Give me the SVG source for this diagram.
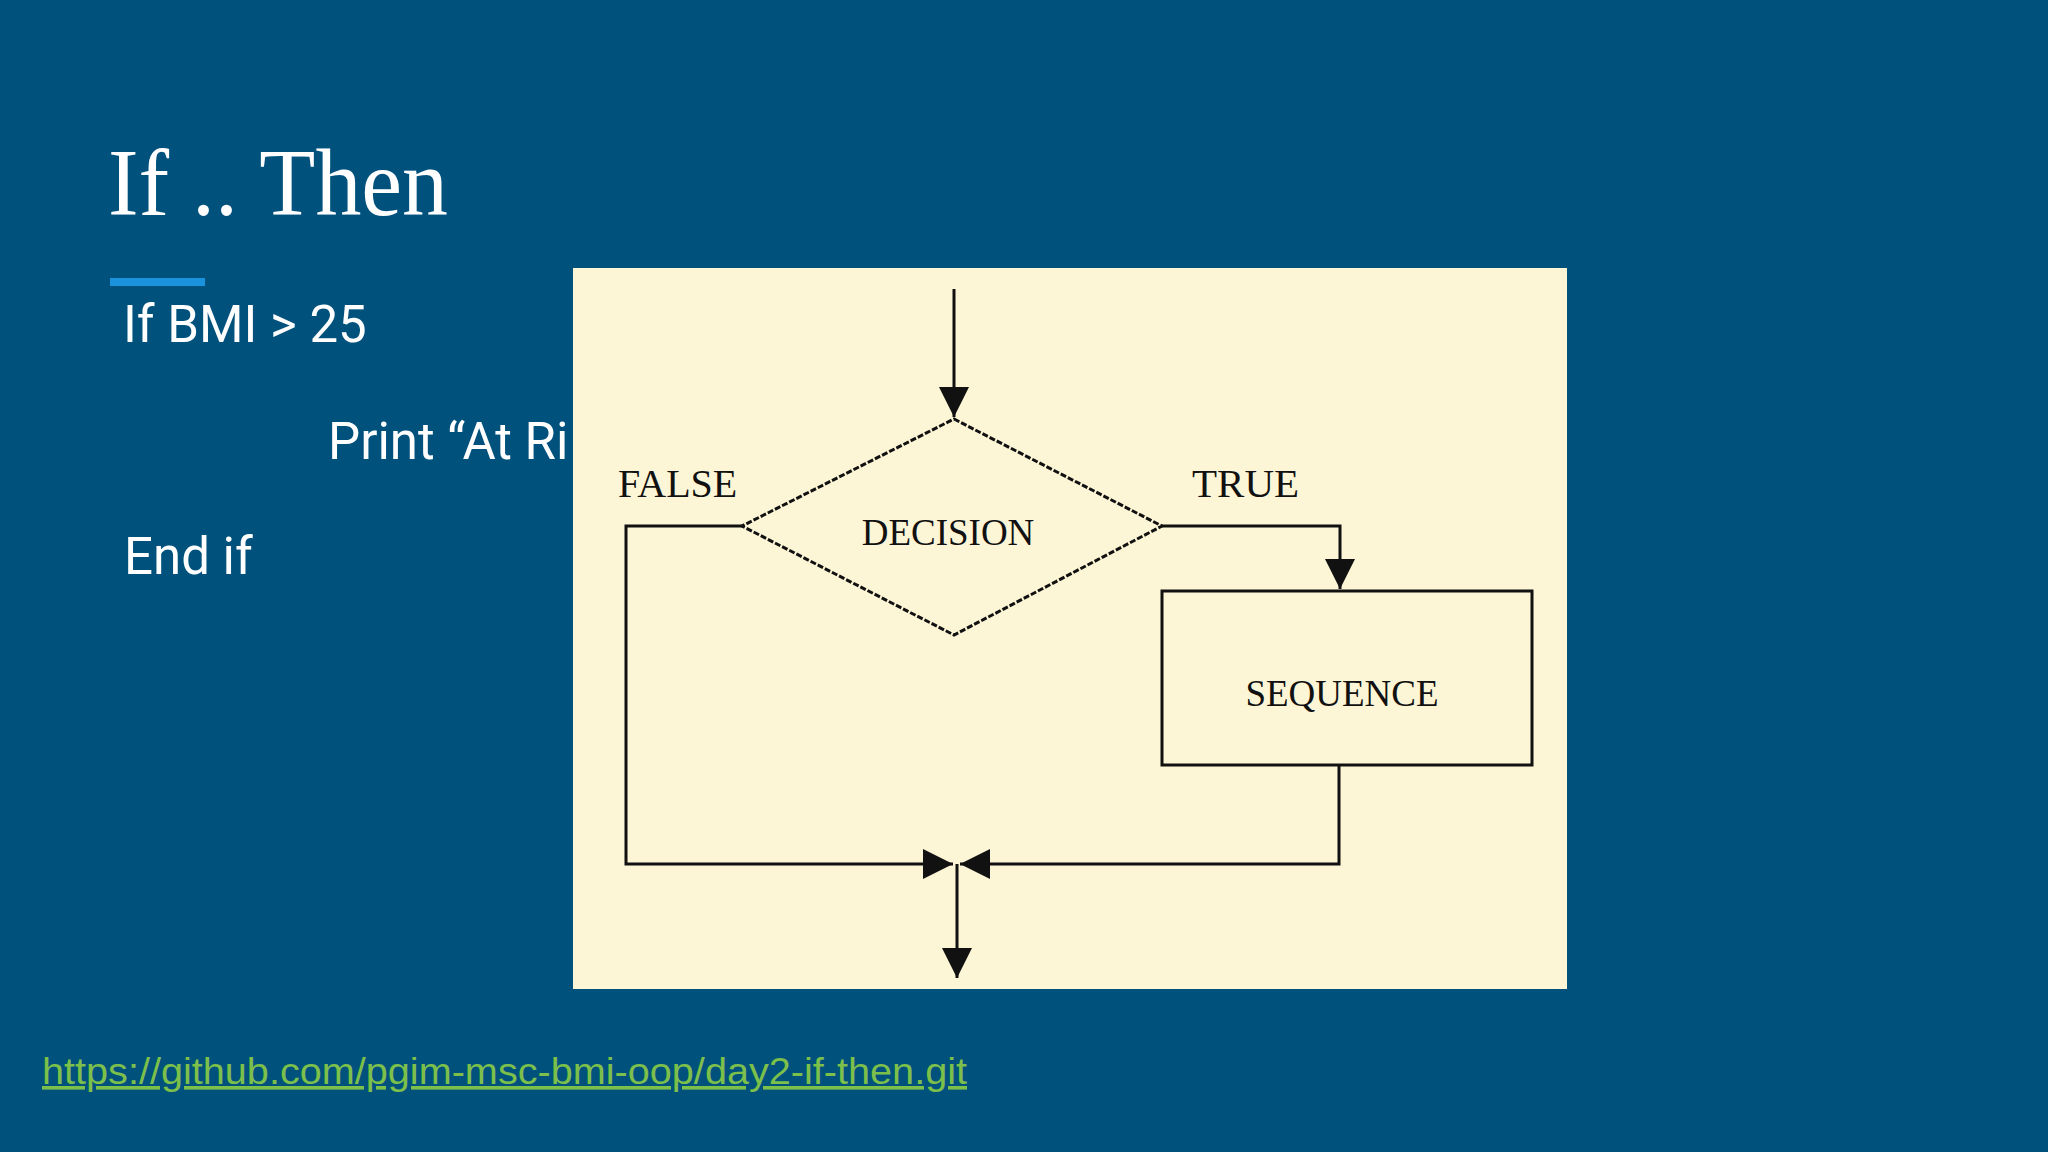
<svg xmlns="http://www.w3.org/2000/svg" width="2048" height="1152" viewBox="0 0 2048 1152">
<defs>
<style>
.body{font-family:Roboto,"Liberation Sans",sans-serif;font-size:51px;fill:#ffffff}
.lbl{font-family:"Liberation Serif",serif;fill:#111111}
.ln{fill:none;stroke:#111111;stroke-width:3}
</style>
<marker id="ah" markerUnits="userSpaceOnUse" viewBox="0 0 30 30" refX="30" refY="15" markerWidth="30" markerHeight="30" orient="auto">
<path d="M0,0 L30,15 L0,30 z" fill="#111111"/>
</marker>
</defs>
<rect x="0" y="0" width="2048" height="1152" fill="#01517d"/>
<g id="title">
<text x="108" y="215" font-family="'Liberation Serif',serif" font-size="96" fill="#ffffff" textLength="340" lengthAdjust="spacingAndGlyphs">If .. Then</text>
<rect x="110" y="278" width="95" height="8" fill="#1a92dc"/>
</g>
<g id="code">
<text class="body" x="123" y="342">If BMI &gt; 25</text>
<text class="body" x="328" y="459">Print “At Ri</text>
<text class="body" x="124" y="574">End if</text>
</g>
<rect id="panel" x="573" y="268" width="994" height="721" fill="#fdf6d6"/>
<g id="decision">
<polygon points="954,419 1162,526 954,635 742,526" fill="none" stroke="#111111" stroke-width="3" stroke-dasharray="6 2"/>
<text class="lbl" x="948" y="545" font-size="37" text-anchor="middle">DECISION</text>
</g>
<g id="sequence">
<rect x="1162" y="591" width="370" height="174" fill="none" stroke="#111111" stroke-width="3"/>
<text class="lbl" x="1342" y="706" font-size="37" text-anchor="middle">SEQUENCE</text>
</g>
<g id="connectors">
<path class="ln" d="M954,289 V417" marker-end="url(#ah)"/>
<path class="ln" d="M1162,526 H1340 V589" marker-end="url(#ah)"/>
<path class="ln" d="M742,526 H626 V864 H953" marker-end="url(#ah)"/>
<path class="ln" d="M1339,765 V864 H960" marker-end="url(#ah)"/>
<path class="ln" d="M957,864 V978" marker-end="url(#ah)"/>
<text class="lbl" x="618" y="497" font-size="40">FALSE</text>
<text class="lbl" x="1192" y="497" font-size="41">TRUE</text>
</g>
<g id="link">
<text x="42" y="1084" font-family="'Liberation Sans',Arial,sans-serif" font-size="36" fill="#7cc04b" text-decoration="underline" textLength="925" lengthAdjust="spacingAndGlyphs">https://github.com/pgim-msc-bmi-oop/day2-if-then.git</text>
</g>
</svg>
